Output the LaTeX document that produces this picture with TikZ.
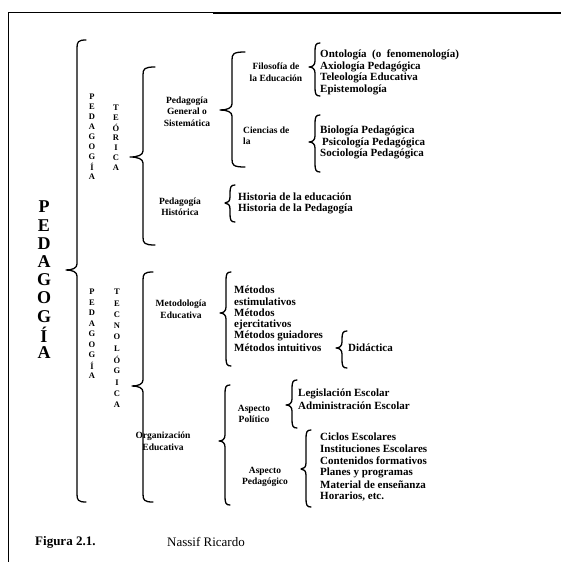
\documentclass[tikz,border=0pt]{standalone}
\usepackage{fontspec}
\setmainfont{Liberation Serif}
\newcommand\mybrace[6]{%
 \draw[brc] ({#1+#5},#2) .. controls ({#1+1},#2) and (#1,{#2+2}) .. (#1,{#2+8})
   -- (#1,{#3-6}) .. controls (#1,{#3-2}) and ({#1-#6*0.4},#3) .. ({#1-#6},#3)
   .. controls ({#1-#6*0.4},#3) and (#1,{#3+2}) .. (#1,{#3+6})
   -- (#1,{#4-8}) .. controls (#1,{#4-2}) and ({#1+1},#4) .. ({#1+#5},#4);}
\begin{document}
\begin{tikzpicture}[x=1pt,y=-1pt,
  txt/.style={inner sep=0pt, font=\fontsize{11}{11.5}\bfseries\selectfont},
  lst/.style={txt, anchor=west},
  ctr/.style={inner sep=0pt, align=center, font=\fontsize{9.5}{11.7}\bfseries\selectfont},
  big/.style={inner sep=0pt, font=\fontsize{18}{18}\bfseries\selectfont},
  col/.style={inner sep=0pt, font=\fontsize{8.5}{9}\bfseries\selectfont},
  captxt/.style={inner sep=0pt, anchor=west, font=\fontsize{13}{13}\selectfont},
  brc/.style={line width=1.3pt, line cap=round, line join=round},
  frame/.style={line width=1.3pt}]
\useasboundingbox (0,0) rectangle (561,562);
% frame
\draw[frame] (8.5,562) -- (8.5,12.5) -- (213,12.5);
\draw[line width=2pt] (213,12.5) -- (561,12.5);
% big title
\foreach \l [count=\i from 0] in {P,E,D,A,G,O,G,Í,A}
  \node[big] (big\i) at (44,{207+18.2*\i}) {\l};
% vertical small columns
\foreach \l [count=\i from 0] in {P,E,D,A,G,O,G,Í,A}
  \node[col] (pt\i) at (92,{97+10*\i}) {\l};
\foreach \l [count=\i from 0] in {T,E,Ó,R,I,C,A}
  \node[col] (te\i) at (116,{108+10*\i}) {\l};
\foreach \l [count=\i from 0] in {P,E,D,A,G,O,G,Í,A}
  \node[col] (pc\i) at (92,{292+10.5*\i}) {\l};
\foreach \l [count=\i from 0] in {T,E,C,N,O,L,Ó,G,I,C,A}
  \node[col] (tc\i) at (117,{292+11.3*\i}) {\l};
% braces
\mybrace{77}{40}{270}{502}{9}{11}
\mybrace{143}{67}{157}{245}{12}{13}
\mybrace{143}{272}{386}{502}{10}{11}
\mybrace{232}{52}{110}{167}{13}{12}
\mybrace{315}{43}{67}{96}{5}{6}
\mybrace{315}{115}{142}{172}{5}{6}
\mybrace{230}{185}{203}{222}{5}{5}
\mybrace{226}{272}{313}{366}{5}{6}
\mybrace{342}{331}{348}{368}{5}{6}
\mybrace{225}{385}{441}{505}{5}{6}
\mybrace{292}{380}{405}{428}{5}{6}
\mybrace{306}{430}{469}{507}{5}{5}
% teorica
\node[ctr] (gen) at (187,111.5) {Pedagogía\\General o\\Sistemática};
\node[ctr] (fil) at (276,72.3) {Filosofía de\\la Educación};
\node[ctr,anchor=west] (cie1) at (243,130) {Ciencias de};
\node[ctr,anchor=west] (cie2) at (243,141.5) {la};
\node[lst] (f1) at (320,55) {Ontología \ (o \ fenomenología)};
\node[lst] (f2) at (320,66.5) {Axiología Pedagógica};
\node[lst] (f3) at (320,78) {Teleología Educativa};
\node[lst] (f4) at (320,89.5) {Epistemología};
\node[lst] (c1) at (320,131) {Biología Pedagógica};
\node[lst] (c2) at (322,142.5) {Psicología Pedagógica};
\node[lst] (c3) at (320,154) {Sociología Pedagógica};
\node[ctr] (his) at (180,206.8) {Pedagogía\\Histórica};
\node[lst] (h1) at (238,197) {Historia de la educación};
\node[lst] (h2) at (238,208.5) {Historia de la Pedagogía};
% tecnologica
\node[ctr] (met) at (181,309) {Metodología\\Educativa};
\node[lst] (m1) at (234,290) {Métodos};
\node[lst] (m2) at (234,301.5) {estimulativos};
\node[lst] (m3) at (234,313) {Métodos};
\node[lst] (m4) at (234,324.5) {ejercitativos};
\node[lst] (m5) at (234,336) {Métodos guiadores};
\node[lst] (m6) at (234,347.5) {Métodos intuitivos};
\node[lst] (did) at (348,347.5) {Didáctica};
\node[ctr] (org) at (163,441) {Organización\\Educativa};
\node[ctr] (pol) at (254,414) {Aspecto\\Político};
\node[lst] (l1) at (298,394) {Legislación Escolar};
\node[lst] (l2) at (298,405.5) {Administración Escolar};
\node[ctr] (ped) at (265,477) {Aspecto\\Pedagógico};
\node[lst] (p1) at (320,437) {Ciclos Escolares};
\node[lst] (p2) at (320,449) {Instituciones Escolares};
\node[lst] (p3) at (320,461) {Contenidos formativos};
\node[lst] (p4) at (320,473) {Planes y programas};
\node[lst] (p5) at (320,485) {Material de enseñanza};
\node[lst] (p6) at (320,497) {Horarios, etc.};
% caption
\node[captxt,font=\fontsize{13}{13}\bfseries\selectfont] (fig) at (35,542) {Figura 2.1.};
\node[captxt] (aut) at (167,542) {Nassif Ricardo};
\end{tikzpicture}
\end{document}
